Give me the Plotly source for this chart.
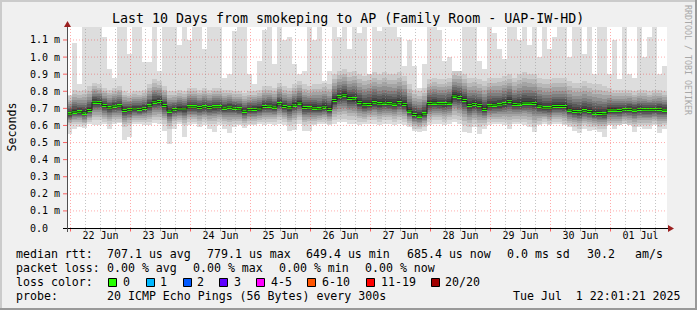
import plotly.graph_objects as go
import pandas as pd
import numpy as np

# ---------------- data ----------------
START = pd.Timestamp("2025-06-21 22:36:00")
STEP_HOURS = 2

rtt_median = [
    0.668, 0.678, 0.680, 0.672, 0.688, 0.736, 0.735, 0.717, 0.703, 0.713,
    0.715, 0.688, 0.692, 0.696, 0.694, 0.700, 0.715, 0.736, 0.740, 0.717,
    0.684, 0.692, 0.696, 0.696, 0.709, 0.709, 0.705, 0.709, 0.705, 0.709,
    0.709, 0.701, 0.707, 0.701, 0.697, 0.683, 0.692, 0.694, 0.696, 0.711,
    0.713, 0.707, 0.727, 0.711, 0.703, 0.719, 0.731, 0.705, 0.703, 0.701,
    0.697, 0.707, 0.694, 0.746, 0.768, 0.777, 0.758, 0.756, 0.735, 0.721,
    0.723, 0.733, 0.727, 0.731, 0.727, 0.725, 0.733, 0.723, 0.684, 0.664,
    0.655, 0.668, 0.729, 0.731, 0.727, 0.727, 0.731, 0.772, 0.764, 0.746,
    0.717, 0.723, 0.717, 0.694, 0.715, 0.719, 0.721, 0.727, 0.741, 0.723,
    0.725, 0.731, 0.731, 0.729, 0.713, 0.703, 0.703, 0.711, 0.711, 0.711,
    0.690, 0.682, 0.680, 0.686, 0.682, 0.672, 0.670, 0.668, 0.690, 0.690,
    0.688, 0.692, 0.694, 0.690, 0.694, 0.692, 0.692, 0.692, 0.694, 0.690,
]
smoke_max = [
    0.78, 1.08, 0.84, 1.20, 1.20, 1.20, 1.20, 1.12, 0.93, 0.88,
    1.20, 1.20, 1.02, 1.20, 1.20, 0.97, 0.97, 1.20, 0.92, 1.20,
    1.20, 1.20, 1.07, 1.20, 1.10, 1.20, 1.20, 1.05, 1.20, 1.20,
    1.20, 0.88, 0.90, 1.15, 1.20, 1.20, 0.90, 0.84, 0.98, 1.16,
    1.20, 0.96, 1.20, 1.10, 1.12, 0.96, 0.90, 0.92, 1.20, 1.10,
    1.20, 0.86, 0.92, 1.20, 1.12, 1.20, 1.05, 1.20, 1.14, 1.20,
    0.90, 1.20, 1.15, 1.20, 1.20, 1.20, 1.12, 0.95, 1.10, 0.95,
    0.82, 0.96, 1.20, 1.20, 1.16, 0.98, 1.00, 0.92, 0.92, 1.18,
    1.20, 1.20, 0.98, 0.93, 1.20, 1.14, 1.05, 0.99, 1.20, 1.20,
    1.10, 1.18, 1.07, 1.20, 1.00, 1.20, 1.05, 1.12, 1.20, 1.20,
    1.00, 1.20, 1.20, 1.02, 1.20, 0.90, 1.20, 1.20, 0.90, 1.10,
    0.87, 1.20, 0.90, 0.88, 1.20, 1.00, 1.12, 1.20, 0.90, 0.95,
]
smoke_min = [
    0.550, 0.580, 0.590, 0.585, 0.610, 0.600, 0.600, 0.610, 0.580, 0.610,
    0.615, 0.515, 0.530, 0.610, 0.610, 0.605, 0.600, 0.615, 0.610, 0.570,
    0.490, 0.580, 0.610, 0.530, 0.600, 0.610, 0.590, 0.600, 0.580, 0.560,
    0.600, 0.580, 0.555, 0.590, 0.600, 0.585, 0.600, 0.600, 0.610, 0.600,
    0.610, 0.600, 0.610, 0.600, 0.570, 0.575, 0.610, 0.565, 0.570, 0.600,
    0.610, 0.610, 0.600, 0.610, 0.620, 0.620, 0.610, 0.610, 0.600, 0.610,
    0.610, 0.610, 0.600, 0.610, 0.610, 0.600, 0.610, 0.600, 0.590, 0.565,
    0.560, 0.565, 0.600, 0.610, 0.610, 0.600, 0.610, 0.620, 0.610, 0.560,
    0.555, 0.590, 0.550, 0.580, 0.600, 0.610, 0.610, 0.600, 0.580, 0.610,
    0.610, 0.600, 0.590, 0.560, 0.600, 0.610, 0.600, 0.610, 0.610, 0.600,
    0.590, 0.570, 0.555, 0.580, 0.570, 0.575, 0.560, 0.530, 0.600, 0.580,
    0.600, 0.610, 0.600, 0.560, 0.590, 0.580, 0.580, 0.600, 0.555, 0.580,
]
smoke_hi = [
    0.77, 0.81, 0.80, 0.81, 0.83, 0.85, 0.84, 0.82, 0.81, 0.82,
    0.83, 0.80, 0.79, 0.80, 0.80, 0.81, 0.84, 0.87, 0.86, 0.83,
    0.80, 0.80, 0.81, 0.80, 0.82, 0.82, 0.81, 0.82, 0.81, 0.82,
    0.82, 0.81, 0.81, 0.80, 0.80, 0.79, 0.80, 0.80, 0.81, 0.83,
    0.83, 0.82, 0.85, 0.83, 0.82, 0.84, 0.86, 0.84, 0.83, 0.84,
    0.84, 0.85, 0.84, 0.90, 0.92, 0.93, 0.91, 0.92, 0.90, 0.89,
    0.90, 0.91, 0.90, 0.91, 0.90, 0.90, 0.91, 0.89, 0.84, 0.81,
    0.80, 0.82, 0.87, 0.88, 0.87, 0.87, 0.88, 0.92, 0.92, 0.90,
    0.88, 0.88, 0.87, 0.86, 0.88, 0.88, 0.88, 0.89, 0.90, 0.88,
    0.90, 0.91, 0.90, 0.90, 0.88, 0.87, 0.87, 0.88, 0.88, 0.88,
    0.86, 0.85, 0.85, 0.86, 0.85, 0.84, 0.84, 0.83, 0.82, 0.81,
    0.81, 0.81, 0.81, 0.80, 0.81, 0.81, 0.80, 0.81, 0.81, 0.80,
]
smoke_lo = [
    0.60, 0.61, 0.61, 0.60, 0.62, 0.63, 0.63, 0.62, 0.61, 0.62,
    0.62, 0.59, 0.60, 0.62, 0.62, 0.62, 0.62, 0.63, 0.63, 0.61,
    0.58, 0.61, 0.62, 0.60, 0.62, 0.62, 0.61, 0.62, 0.61, 0.61,
    0.62, 0.61, 0.60, 0.61, 0.61, 0.60, 0.61, 0.61, 0.62, 0.62,
    0.62, 0.62, 0.63, 0.62, 0.60, 0.61, 0.63, 0.60, 0.61, 0.61,
    0.62, 0.62, 0.61, 0.63, 0.64, 0.64, 0.63, 0.63, 0.62, 0.62,
    0.63, 0.63, 0.62, 0.63, 0.63, 0.62, 0.63, 0.62, 0.60, 0.58,
    0.58, 0.59, 0.62, 0.63, 0.63, 0.62, 0.63, 0.64, 0.63, 0.60,
    0.59, 0.61, 0.59, 0.60, 0.62, 0.62, 0.62, 0.62, 0.61, 0.62,
    0.62, 0.62, 0.61, 0.59, 0.61, 0.62, 0.61, 0.62, 0.62, 0.61,
    0.60, 0.59, 0.58, 0.60, 0.59, 0.59, 0.58, 0.58, 0.60, 0.60,
    0.60, 0.61, 0.60, 0.59, 0.60, 0.60, 0.60, 0.61, 0.59, 0.60,
]

y_tick_vals = [0.0, 0.1, 0.2, 0.3, 0.4, 0.5, 0.6, 0.7, 0.8, 0.9, 1.0, 1.1]
y_tick_text = ["0.0\u00a0\u00a0", "0.1 m", "0.2 m", "0.3 m", "0.4 m", "0.5 m",
               "0.6 m", "0.7 m", "0.8 m", "0.9 m", "1.0 m", "1.1 m"]
x_days = ["2025-06-22", "2025-06-23", "2025-06-24", "2025-06-25", "2025-06-26",
          "2025-06-27", "2025-06-28", "2025-06-29", "2025-06-30", "2025-07-01"]

title_text = "Last 10 Days from smokeping to AP (Family Room - UAP-IW-HD)"
legend_line1 = [("median rtt:", 16), ("707.1 us avg", 107), ("779.1 us max", 207),
                ("649.4 us min", 306), ("685.4 us now", 407), ("0.0 ms sd", 507),
                ("30.2", 587), ("am/s", 635)]
legend_line2 = [("packet loss:", 16), ("0.00 % avg", 107), ("0.00 % max", 193),
                ("0.00 % min", 279), ("0.00 % now", 365)]
loss_labels = ["0", "1", "2", "3", "4-5", "6-10", "11-19", "20/20"]
loss_colors = ["#26ff00", "#00b8ff", "#0059ff", "#5e00ff", "#ff00ff", "#ff5500", "#ff0000", "#a10000"]
loss_box_x = [108, 146, 183, 219, 256, 307, 366, 431]
loss_text_x = [123, 160, 197, 234, 271, 322, 381, 445]
legend_line4 = [("probe:", 16), ("20 ICMP Echo Pings (56 Bytes) every 300s", 107),
                ("Tue Jul\u00a0\u00a01 22:01:21 2025", 513)]

# ---------------- geometry ----------------
W, H = 697, 310
PL, PR, PT, PB = 67, 667, 27, 228
Y_MAX = 1.176
FONT = "DejaVu Sans Mono"
END = START + pd.Timedelta(days=10)


def fx(px):
    return (px - PL) / (PR - PL)


def fy(py):
    return (PB - py) / (PB - PT)


n = len(rtt_median)
col_start = START + pd.to_timedelta(np.arange(n) * STEP_HOURS, unit="h")
col_center = col_start + pd.Timedelta(hours=STEP_HOURS / 2)
bar_w = STEP_HOURS * 3600 * 1000

med = np.array(rtt_median)
smax = np.array(smoke_max)
smin = np.array(smoke_min)
shi = np.array(smoke_hi)
slo = np.array(smoke_lo)

fig = go.Figure()

def band(lo, hi, color):
    fig.add_trace(go.Bar(x=col_center, y=hi - lo, base=lo, width=bar_w,
                         marker=dict(color=color, line=dict(width=0)),
                         hoverinfo="skip", showlegend=False))

band(smin, np.maximum(smax, shi), "#dddddd")
fracs = [1.0, 0.82, 0.68, 0.55, 0.44, 0.34, 0.25, 0.16, 0.08]
greys = ["#cacaca", "#b7b7b7", "#a4a4a4", "#919191", "#7e7e7e",
         "#6b6b6b", "#585858", "#454545", "#323232"]
for f, c in zip(fracs, greys):
    band(med - (med - slo) * f, med + (shi - med) * f, c)

# median: dark step line + green loss-colour bars
fig.add_trace(go.Scatter(x=list(col_start) + [col_start[-1] + pd.Timedelta(hours=STEP_HOURS)],
                         y=list(med) + [med[-1]], mode="lines", line_shape="hv",
                         line=dict(color="#202020", width=1),
                         hoverinfo="skip", showlegend=False))
fig.add_trace(go.Bar(x=col_center, y=[0.017] * n, base=med - 0.0085, width=bar_w,
                     marker=dict(color=loss_colors[0], line=dict(width=0)),
                     hoverinfo="skip", showlegend=False))

shapes = []
RED = "rgba(255,0,0,0.33)"
GREY = "rgba(150,150,150,0.55)"
DOT = "1px,2px"
# horizontal major grid
for v in y_tick_vals[1:]:
    shapes.append(dict(type="line", xref="paper", yref="y", x0=0, x1=1, y0=v, y1=v,
                       line=dict(color=RED, width=1, dash=DOT), layer="above"))
    shapes.append(dict(type="line", xref="paper", yref="y", x0=fx(63), x1=fx(67), y0=v, y1=v,
                       line=dict(color="rgba(255,0,0,0.6)", width=1), layer="above"))
# vertical grid (6h grey, midnight red)
t = pd.Timestamp("2025-06-22 00:00")
while t < END:
    if t > START:
        is_day = t.hour == 0
        shapes.append(dict(type="line", xref="x", yref="paper", x0=t, x1=t, y0=0, y1=1,
                           line=dict(color=RED if is_day else GREY, width=1, dash=DOT),
                           layer="above"))
        shapes.append(dict(type="line", xref="x", yref="paper", x0=t, x1=t, y0=fy(228), y1=fy(231.5),
                           line=dict(color="rgba(255,0,0,0.6)" if is_day else "#b0b0b0", width=1),
                           layer="above"))
    t += pd.Timedelta(hours=6)
# axes
shapes.append(dict(type="line", xref="paper", yref="paper", x0=fx(63), x1=fx(669), y0=fy(228.5), y1=fy(228.5),
                   line=dict(color="#000000", width=1), layer="above"))
shapes.append(dict(type="line", xref="paper", yref="paper", x0=fx(67.5), x1=fx(67.5), y0=fy(232), y1=fy(24),
                   line=dict(color="#505050", width=1), layer="above"))
shapes.append(dict(type="path", xref="paper", yref="paper",
                   path=f"M {fx(668)} {fy(225)} L {fx(674)} {fy(228.5)} L {fx(668)} {fy(232)} Z",
                   fillcolor="#9b2020", line=dict(width=0), layer="above"))
shapes.append(dict(type="path", xref="paper", yref="paper",
                   path=f"M {fx(64)} {fy(27)} L {fx(67.5)} {fy(21)} L {fx(71)} {fy(27)} Z",
                   fillcolor="#9b2020", line=dict(width=0), layer="above"))
# border bevel
shapes += [
    dict(type="rect", xref="paper", yref="paper", x0=fx(0), x1=fx(W), y0=fy(0), y1=fy(2),
         fillcolor="#cbcbcb", line=dict(width=0), layer="below"),
    dict(type="rect", xref="paper", yref="paper", x0=fx(0), x1=fx(2), y0=fy(0), y1=fy(H),
         fillcolor="#cbcbcb", line=dict(width=0), layer="below"),
    dict(type="rect", xref="paper", yref="paper", x0=fx(0), x1=fx(W), y0=fy(H - 2), y1=fy(H),
         fillcolor="#999999", line=dict(width=0), layer="below"),
    dict(type="rect", xref="paper", yref="paper", x0=fx(W - 2), x1=fx(W), y0=fy(0), y1=fy(H),
         fillcolor="#999999", line=dict(width=0), layer="below"),
]
# loss colour boxes
for bx, col in zip(loss_box_x, loss_colors):
    shapes.append(dict(type="rect", xref="paper", yref="paper", x0=fx(bx + 0.5), x1=fx(bx + 8.5),
                       y0=fy(278.5), y1=fy(286.5), fillcolor=col,
                       line=dict(color="#000000", width=1), layer="above"))

annotations = []
def text(s, px, py, size=11.6, anchor="left", color="#000000", angle=0):
    annotations.append(dict(text=s, xref="paper", yref="paper", x=fx(px), y=fy(py),
                            xanchor=anchor, yanchor="middle", showarrow=False,
                            textangle=angle,
                            font=dict(family=FONT, size=size, color=color)))

text(title_text, 348, 19, size=13.3, anchor="center")
text("Seconds", 11, 127.5, size=11.6, anchor="center", angle=-90)
text("RRDTOOL / TOBI OETIKER", 688, 60, size=8.3, anchor="center", color="#a8a8a8", angle=90)
for s, px in legend_line1:
    text(s, px - 2.5, 254)
for s, px in legend_line2:
    text(s, px - 2.5, 268)
text("loss color:", 16 - 2.5, 282)
for s, px in zip(loss_labels, loss_text_x):
    text(s, px - 2.5, 282)
for s, px in legend_line4:
    text(s, px - 2.5, 296)

noon = [pd.Timestamp(d) + pd.Timedelta(hours=12) for d in x_days]
fig.update_layout(
    width=W, height=H,
    margin=dict(l=PL, r=W - PR, t=PT, b=H - PB, autoexpand=False),
    paper_bgcolor="#f0f0f0", plot_bgcolor="#ffffff",
    barmode="overlay", bargap=0,
    showlegend=False,
    font=dict(family=FONT, size=10, color="#000000"),
    xaxis=dict(type="date", range=[START, END], showgrid=False, zeroline=False,
               tickvals=noon, ticktext=[p.strftime("%d %b") for p in noon],
               ticks="", showline=False, tickfont=dict(family=FONT, size=10),
               fixedrange=True, automargin=False),
    yaxis=dict(range=[0, Y_MAX], showgrid=False, zeroline=False,
               tickvals=y_tick_vals, ticktext=y_tick_text, ticks="outside", ticklen=4,
               tickcolor="rgba(0,0,0,0)", showline=False,
               tickfont=dict(family=FONT, size=10), fixedrange=True, automargin=False),
    shapes=shapes, annotations=annotations,
)
fig.write_html("out.html", config={"displayModeBar": False})
